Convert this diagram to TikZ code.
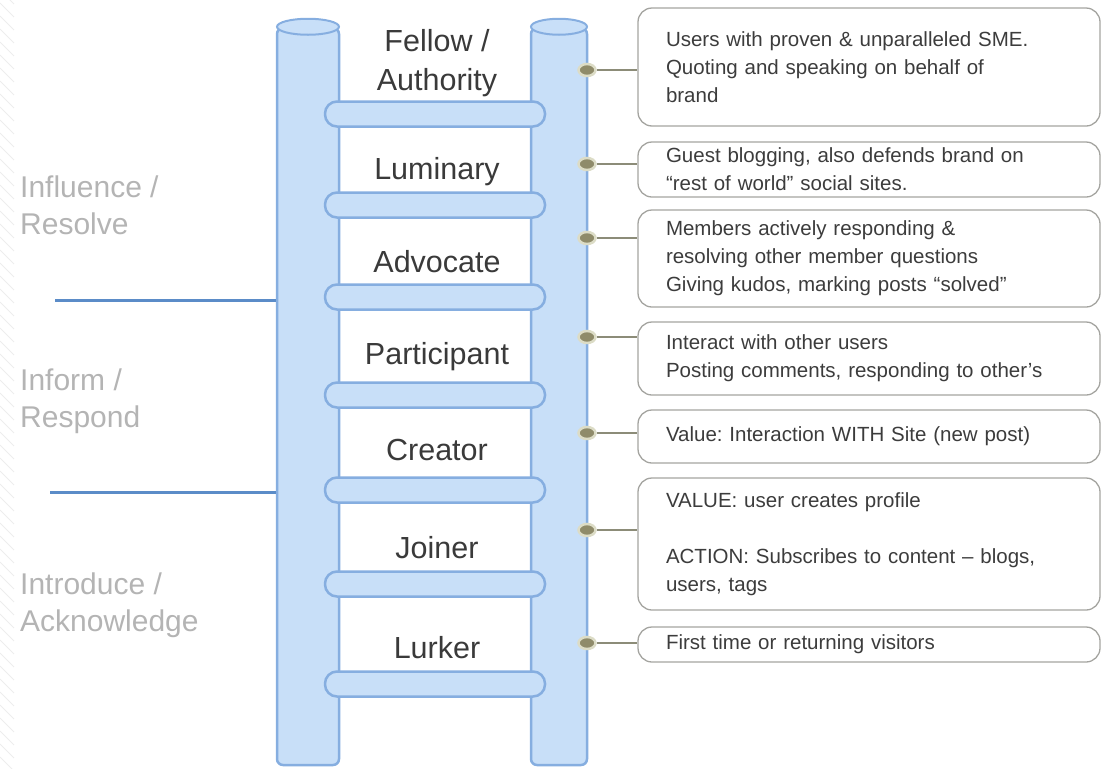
\documentclass[tikz,border=0pt]{standalone}
\usepackage{fontspec}
\setmainfont{Liberation Sans}
\usetikzlibrary{shapes.geometric}
\frenchspacing

\definecolor{poleline}{HTML}{86AEE0}
\definecolor{polefill}{HTML}{C8DFF8}
\definecolor{tierline}{HTML}{5B8CC8}
\definecolor{leveltext}{HTML}{3A3A3A}
\definecolor{stagetext}{HTML}{B4B4B4}
\definecolor{boxline}{HTML}{A4A4A0}
\definecolor{boxtext}{HTML}{3C3C3C}
\definecolor{hookfill}{HTML}{8F8B6A}
\definecolor{hookring}{HTML}{DCDCC6}
\definecolor{hookline}{HTML}{8C8C78}

\begin{document}
\begin{tikzpicture}
        [
            x=1pt, y=-1pt,
            polebody/.style={draw=poleline, fill=polefill, line width=2.5pt, rounded corners=6pt, inner sep=0pt},
            poletop/.style={draw=poleline, fill=polefill, line width=2pt},
            rung/.style={draw=poleline, fill=polefill, line width=2.5pt, rounded corners=12pt, minimum width=220pt, minimum height=25pt, inner sep=0pt},
            level/.style={text=leveltext, font=\fontsize{30.5}{39}\selectfont, align=center},
            stage/.style={text=stagetext, font=\fontsize{30}{37}\selectfont, align=left, anchor=west, inner sep=0pt},
            tier/.style={draw=tierline, line width=3pt},
            hook/.style={ellipse, draw=hookring, line width=2.5pt, fill=hookfill, minimum width=17pt, minimum height=12pt, inner sep=0pt},
            link/.style={draw=hookline, line width=1.2pt},
            infobox/.style={draw=boxline, line width=1.3pt, rounded corners=14pt, text width=406pt, inner xsep=28pt, inner ysep=0pt, minimum width=462pt, align=left, font=\fontsize{20.5}{28}\selectfont, text=boxtext},
        ]
        \useasboundingbox (0,0) rectangle (1104,769);

        % faint hatching along the left border
        \foreach \y in {-10,3,...,769}
            \draw[gray!14, line width=0.8pt] (0,\y) -- (14,\y+14);

        % the two poles of the ladder
        \node[polebody, minimum width=62pt, minimum height=737pt] (lpole) at (308,396.5) {};
        \node[polebody, minimum width=56pt, minimum height=737pt] (rpole) at (559,396.5) {};
        \draw[poletop] (lpole.north) ellipse [x radius=31, y radius=8];
        \draw[poletop] (rpole.north) ellipse [x radius=28, y radius=8];

        % rungs
        \node[rung] (r1) at (435,114) {};
        \node[rung] (r2) at (435,205) {};
        \node[rung] (r3) at (435,297) {};
        \node[rung] (r4) at (435,395) {};
        \node[rung] (r5) at (435,490) {};
        \node[rung] (r6) at (435,584) {};
        \node[rung] (r7) at (435,684) {};

        % levels between the rungs
        \node[level] (fellow) at (437,63) {Fellow /\\Authority};
        \node[level] (luminary) at (437,172) {Luminary};
        \node[level] (advocate) at (437,262) {Advocate};
        \node[level] (participant) at (437,357) {Participant};
        \node[level] (creator) at (437,450) {Creator};
        \node[level] (joiner) at (437,548) {Joiner};
        \node[level] (lurker) at (437,648) {Lurker};

        % stages on the left
        \node[stage] (influence) at (20,205) {Influence /\\Resolve};
        \node[stage] (inform) at (20,401) {Inform /\\Respond};
        \node[stage] (introduce) at (20,605) {Introduce /\\Acknowledge};
        \coordinate (cut1) at (55,300);
        \coordinate (cut2) at (50,492);
        \draw[tier] (cut1) -- (cut1 -| lpole.west);
        \draw[tier] (cut2) -- (cut2 -| lpole.west);

        % descriptions
        \node[infobox, minimum height=118pt] (b1) at (869,67)
            {Users with proven \& unparalleled SME.\\Quoting and speaking on behalf of\\brand};
        \node[infobox, minimum height=55pt] (b2) at (869,169.5)
            {Guest blogging, also defends brand on\\``rest of world'' social sites.};
        \node[infobox, minimum height=97pt] (b3) at (869,258.5)
            {Members actively responding \&\\resolving other member questions\\Giving kudos, marking posts ``solved''};
        \node[infobox, minimum height=73pt] (b4) at (869,358.5)
            {Interact with other users\\Posting comments, responding to other's};
        \node[infobox, minimum height=53pt] (b5) at (869,436.5)
            {Value: Interaction WITH Site (new post)};
        \node[infobox, minimum height=132pt] (b6) at (869,544)
            {VALUE: user creates profile\\[28pt]ACTION: Subscribes to content -- blogs,\\users, tags};
        \node[infobox, minimum height=35pt] (b7) at (869,644.5)
            {First time or returning visitors};

        % hooks on the right pole
        \node[hook] (h1) at (587,70) {};
        \node[hook] (h2) at (587,164) {};
        \node[hook] (h3) at (587,238) {};
        \node[hook] (h4) at (587,337) {};
        \node[hook] (h5) at (587,433) {};
        \node[hook] (h6) at (587,530) {};
        \node[hook] (h7) at (587,643) {};

        \draw[link] (h1) -- (h1 -| b1.west);
        \draw[link] (h2) -- (h2 -| b2.west);
        \draw[link] (h3) -- (h3 -| b3.west);
        \draw[link] (h4) -- (h4 -| b4.west);
        \draw[link] (h5) -- (h5 -| b5.west);
        \draw[link] (h6) -- (h6 -| b6.west);
        \draw[link] (h7) -- (h7 -| b7.west);
\end{tikzpicture}
\end{document}
